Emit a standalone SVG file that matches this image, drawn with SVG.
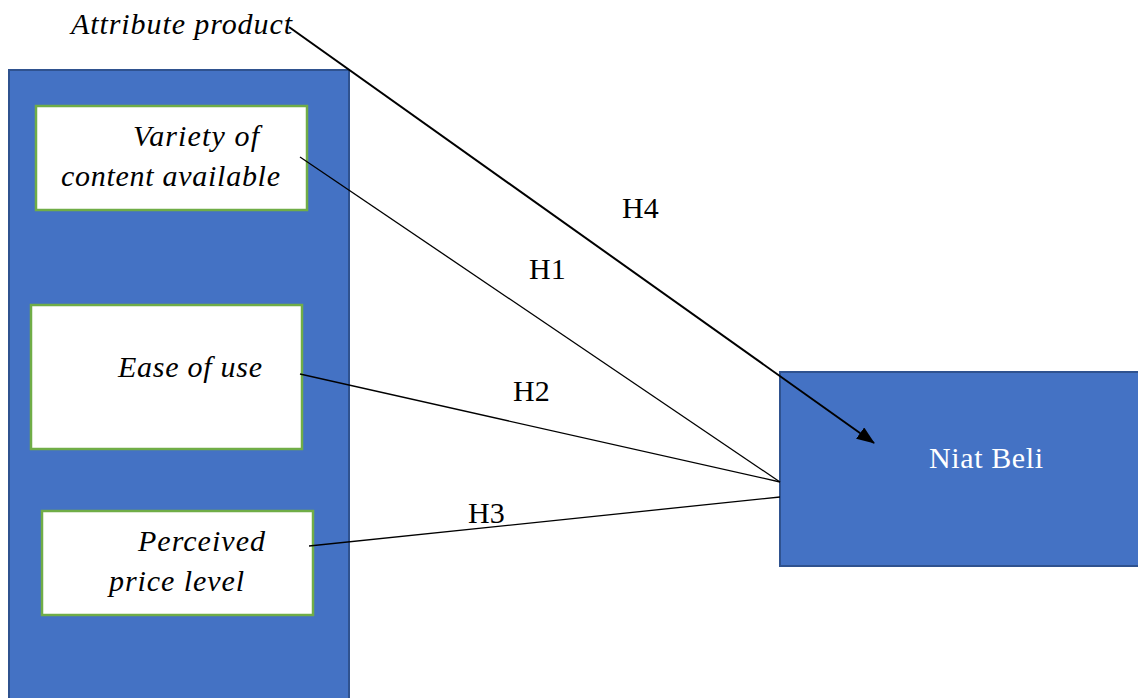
<svg xmlns="http://www.w3.org/2000/svg" width="1138" height="698" viewBox="0 0 1138 698">
<style>
.blue{fill:#4472C4;stroke:#2F528F;stroke-width:2}
.box{fill:#ffffff;stroke:#70AD47;stroke-width:2.5}
text{font-family:'Liberation Serif','Times New Roman',Tinos,'Nimbus Roman',serif;font-size:30px}
.it{font-style:italic;fill:#000}
.lbl{fill:#000}
.wt{fill:#ffffff}
.ln{stroke:#000;stroke-width:1.3;fill:none}
.arr{stroke:#000;stroke-width:2;fill:none}
</style>
<defs>
<marker id="ah" markerWidth="18" markerHeight="14" refX="17" refY="7" orient="auto" markerUnits="userSpaceOnUse" viewBox="0 0 18 14">
<path d="M0,0 L18,7 L0,14 Z" fill="#000"/>
</marker>
</defs>
<rect width="1138" height="698" fill="#ffffff"/>
<g id="attribute-group">
<rect class="blue" x="9" y="70" width="340" height="640"/>
<text class="it" x="71" y="34" textLength="221">Attribute product</text>
</g>
<g id="variety">
<rect class="box" x="36" y="106" width="271" height="104"/>
<text class="it" x="133" y="146" textLength="126">Variety of</text>
<text class="it" x="61" y="186" textLength="219">content available</text>
</g>
<g id="ease">
<rect class="box" x="31" y="305" width="271" height="144"/>
<text class="it" x="118" y="377" textLength="144">Ease of use</text>
</g>
<g id="price">
<rect class="box" x="42" y="511" width="271" height="104"/>
<text class="it" x="138" y="551" textLength="127">Perceived</text>
<text class="it" x="109" y="591" textLength="135">price level</text>
</g>
<g id="niat-beli">
<rect class="blue" x="780" y="372" width="370" height="194"/>
<text class="wt" x="929" y="468" textLength="114">Niat Beli</text>
</g>
<g id="connectors">
<line class="ln" x1="300" y1="157" x2="780" y2="482"/>
<line class="ln" x1="300" y1="374" x2="780" y2="482"/>
<line class="ln" x1="309" y1="546" x2="780" y2="497"/>
<line class="arr" x1="289" y1="27" x2="874" y2="443" marker-end="url(#ah)"/>
<text class="lbl" x="622" y="218">H4</text>
<text class="lbl" x="529" y="279">H1</text>
<text class="lbl" x="513" y="401">H2</text>
<text class="lbl" x="468" y="523">H3</text>
</g>
</svg>
